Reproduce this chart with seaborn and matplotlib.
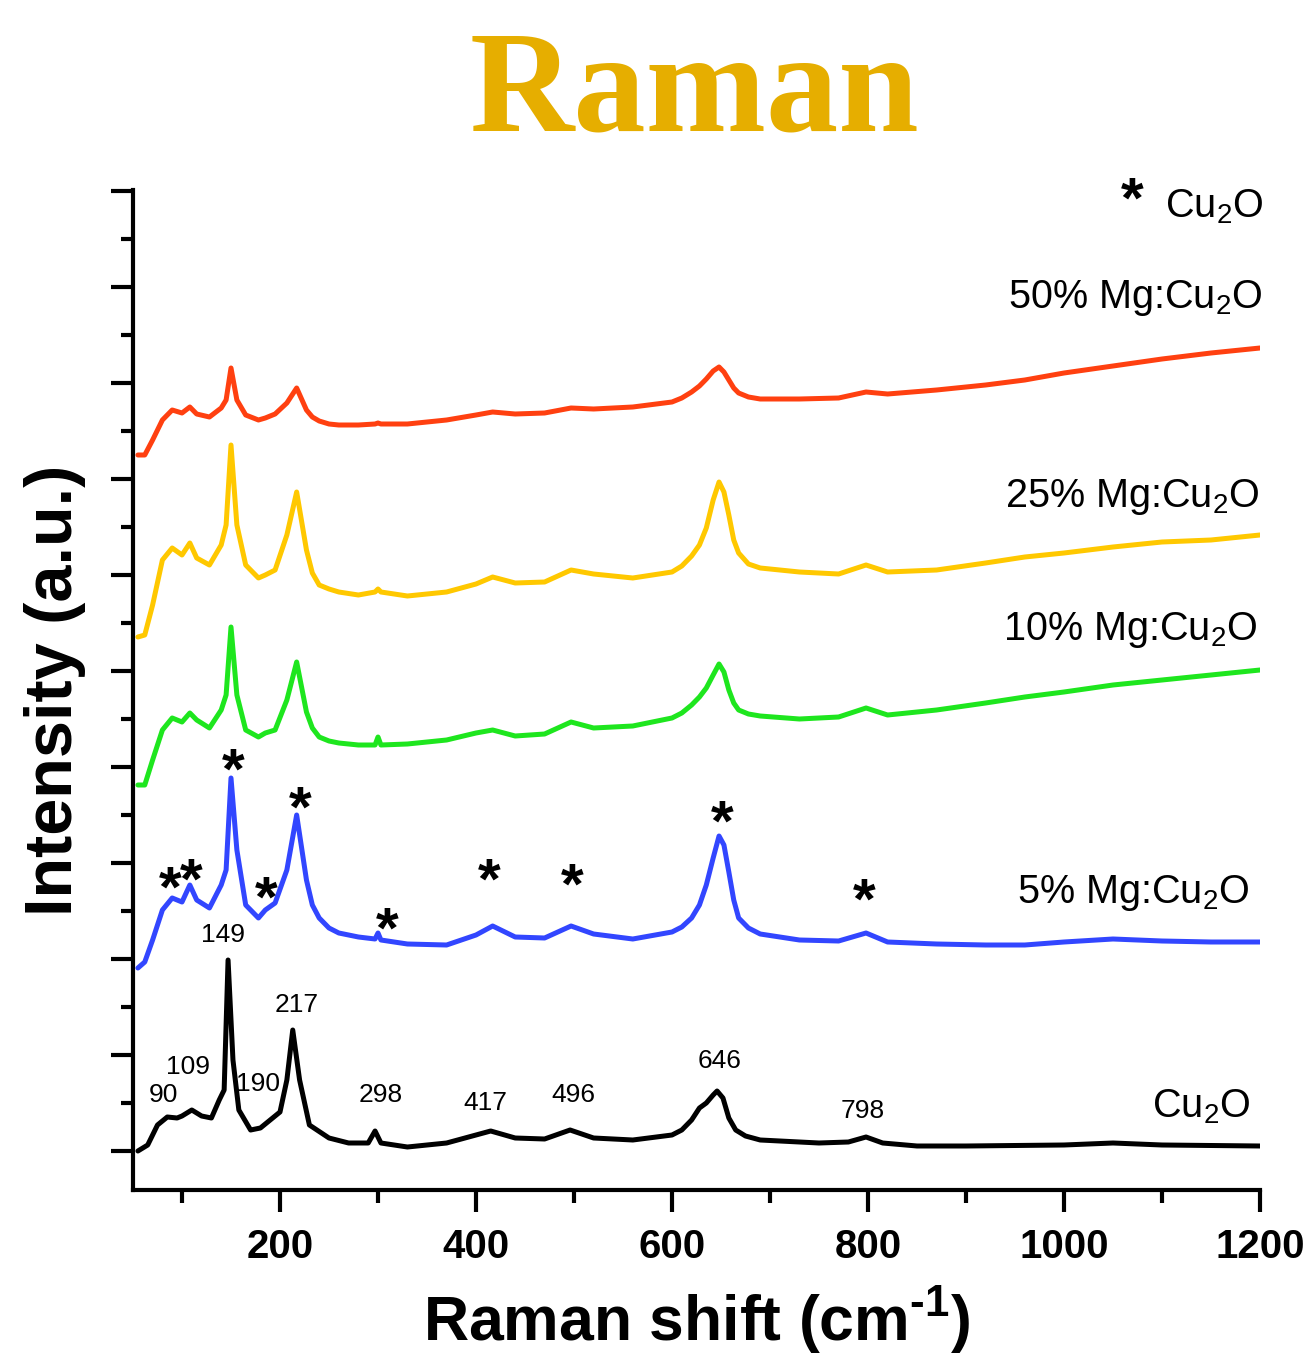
import pandas as pd
import matplotlib
matplotlib.use('Agg')
import matplotlib.pyplot as plt
from matplotlib.ticker import MultipleLocator
import seaborn as sns

# --- data (intensities in a.u., spectra already stacked) ---
shift_doped = [55, 62, 70, 80, 90, 100, 108, 115, 128, 140, 145, 150, 156, 165, 178,
               185, 195, 207, 217, 227, 233, 240, 250, 260, 280, 297, 300, 303, 330,
               370, 400, 417, 440, 470, 497, 520, 560, 600, 610, 620, 628, 635, 642,
               648, 653, 658, 663, 668, 678, 690, 730, 770, 798, 820, 870, 920, 960,
               1000, 1050, 1100, 1150, 1200]

mg5 = [183, 189, 211, 241, 253, 249, 266, 251, 243, 266, 281, 373, 301, 246, 233,
       241, 248, 281, 336, 271, 246, 233, 223, 218, 214, 212, 218, 211, 207,
       206, 216, 225, 214, 213, 225, 217, 212, 219, 224, 233, 246, 266, 293,
       315, 306, 279, 251, 233, 223, 217, 211, 210, 218, 209, 207, 206, 206,
       209, 212, 210, 209, 209]

mg10 = [366, 366, 391, 421, 433, 429, 438, 431, 423, 441, 456, 524, 456, 421, 414,
        418, 421, 451, 489, 439, 423, 414, 410, 408, 406, 406, 414, 406, 407,
        411, 418, 421, 415, 417, 429, 423, 425, 433, 438, 446, 454, 463, 476,
        487, 479, 461, 448, 441, 437, 435, 432, 434, 443, 436, 441, 448, 454,
        459, 466, 471, 476, 481]

mg25 = [514, 516, 546, 591, 603, 596, 608, 593, 586, 606, 626, 706, 626, 586, 573,
        576, 581, 616, 659, 601, 578, 566, 562, 559, 556, 559, 562, 559, 555,
        559, 567, 574, 568, 569, 581, 577, 573, 579, 585, 595, 606, 623, 651,
        669, 659, 636, 611, 598, 587, 583, 579, 577, 586, 579, 581, 588, 594,
        598, 604, 609, 611, 616]

mg50 = [696, 696, 711, 731, 741, 738, 744, 737, 734, 743, 751, 783, 751, 736, 731,
        733, 737, 748, 763, 741, 734, 730, 727, 726, 726, 727, 728, 727, 727,
        731, 736, 739, 737, 738, 743, 742, 744, 749, 753, 759, 765, 772, 780,
        784, 779, 771, 763, 758, 754, 752, 752, 753, 759, 757, 761, 766, 771,
        778, 785, 792, 798, 803]

shift_cu2o = [55, 65, 75, 85, 95, 100, 110, 120, 130, 138, 143, 147, 152, 158, 170,
              180, 190, 200, 207, 213, 220, 230, 250, 270, 290, 297, 303, 330, 370,
              400, 415, 440, 470, 496, 520, 560, 600, 610, 620, 628, 635, 642, 646,
              652, 658, 665, 675, 690, 750, 780, 798, 815, 850, 900, 1000, 1050,
              1100, 1200]

cu2o = [0, 6, 26, 34, 33, 35, 41, 35, 33, 51, 61, 191, 91, 41, 21,
        23, 31, 39, 71, 121, 71, 26, 13, 8, 8, 20, 8, 4, 8,
        16, 20, 13, 12, 21, 13, 11, 16, 21, 31, 43, 48, 56, 60,
        53, 33, 21, 15, 11, 8, 9, 14, 8, 5, 5, 6, 8,
        6, 5]

samples = ['Cu2O', '5%', '10%', '25%', '50%']
colors = ['#000000', '#3246FF', '#1EE61E', '#FFC800', '#FF4010']

# sample labels: text, right x, baseline y
sample_text = ['Cu$_2$O', '5% Mg:Cu$_2$O', '10% Mg:Cu$_2$O', '25% Mg:Cu$_2$O', '50% Mg:Cu$_2$O']
sample_x = [1190, 1190, 1198, 1200, 1203]
sample_y = [34, 248, 511, 644, 843]

# Cu2O mode positions labelled under the reference spectrum
peak_names = ['90', '109', '149', '190', '217', '298', '417', '496', '646', '798']
peak_x = [81, 106, 142, 178, 217, 303, 410, 499, 649, 795]
peak_y = [49, 77, 209, 60, 139, 49, 41, 49, 83, 33]

# asterisks over the 5% spectrum
star_x = [88, 109, 152, 186, 221, 309, 414, 498, 651, 796]
star_y = [244, 252, 362, 234, 324, 203, 252, 247, 310, 232]

rows = []
for name, xs, ys in [('Cu2O', shift_cu2o, cu2o), ('5%', shift_doped, mg5),
                     ('10%', shift_doped, mg10), ('25%', shift_doped, mg25),
                     ('50%', shift_doped, mg50)]:
    for xv, yv in zip(xs, ys):
        rows.append({'shift': xv, 'intensity': yv, 'sample': name})
df = pd.DataFrame(rows)

sns.set_theme(style='ticks')
plt.rcParams['font.family'] = ['Liberation Sans', 'DejaVu Sans']
plt.rcParams['mathtext.fontset'] = 'custom'
plt.rcParams['mathtext.rm'] = 'Liberation Sans'
plt.rcParams['mathtext.bf'] = 'Liberation Sans:bold'
plt.rcParams['mathtext.default'] = 'regular'
for key in ['text.color', 'axes.labelcolor', 'xtick.color', 'ytick.color']:
    plt.rcParams[key] = 'black'

fig = plt.figure(figsize=(13.09, 13.58), dpi=100)
ax = fig.add_axes([133 / 1309, 1 - 1190 / 1358, (1260 - 133) / 1309, (1190 - 190) / 1358])

sns.lineplot(data=df, x='shift', y='intensity', hue='sample', hue_order=samples,
             palette=colors, linewidth=3.6, estimator=None, legend=False, ax=ax)

ax.set_xlim(50, 1200)
ax.set_ylim(-39, 961)
ax.xaxis.set_major_locator(MultipleLocator(200))
ax.xaxis.set_minor_locator(MultipleLocator(100))
ax.yaxis.set_major_locator(MultipleLocator(96))
ax.yaxis.set_minor_locator(MultipleLocator(48))
ax.set_yticklabels([])
for s in ['top', 'right']:
    ax.spines[s].set_visible(False)
for s in ['left', 'bottom']:
    ax.spines[s].set_linewidth(3)
    ax.spines[s].set_color('black')
ax.tick_params(which='major', direction='out', length=16, width=3, color='black')
ax.tick_params(which='minor', direction='out', length=9, width=3, color='black')
ax.tick_params(axis='x', which='major', labelsize=29, pad=11)
for lab in ax.get_xticklabels():
    lab.set_fontweight('bold')

ax.set_xlabel('Raman shift (cm$^{\\mathbf{\u20101}}$)', fontsize=45, fontweight='bold', labelpad=13)
ax.set_ylabel('Intensity (a.u.)', fontsize=48, fontweight='bold', labelpad=14)

for t, xv, yv in zip(sample_text, sample_x, sample_y):
    ax.text(xv, yv, t, fontsize=28.5, ha='right', va='baseline')
ax.text(1070, 933, '*', fontsize=42, fontweight='bold', ha='center', va='baseline')
ax.text(1203, 934, 'Cu$_2$O', fontsize=28.5, ha='right', va='baseline')

for t, xv, yv in zip(peak_names, peak_x, peak_y):
    ax.text(xv, yv, t, fontsize=19, ha='center', va='baseline')
for xv, yv in zip(star_x, star_y):
    ax.text(xv, yv, '*', fontsize=42, fontweight='bold', ha='center', va='baseline')

fig.text(694 / 1309, 1 - 130 / 1358, 'Raman', fontsize=104, fontweight='bold',
         family='Liberation Serif', color='#E6AE00', ha='center', va='baseline')

fig.savefig('out.png', dpi=100)
